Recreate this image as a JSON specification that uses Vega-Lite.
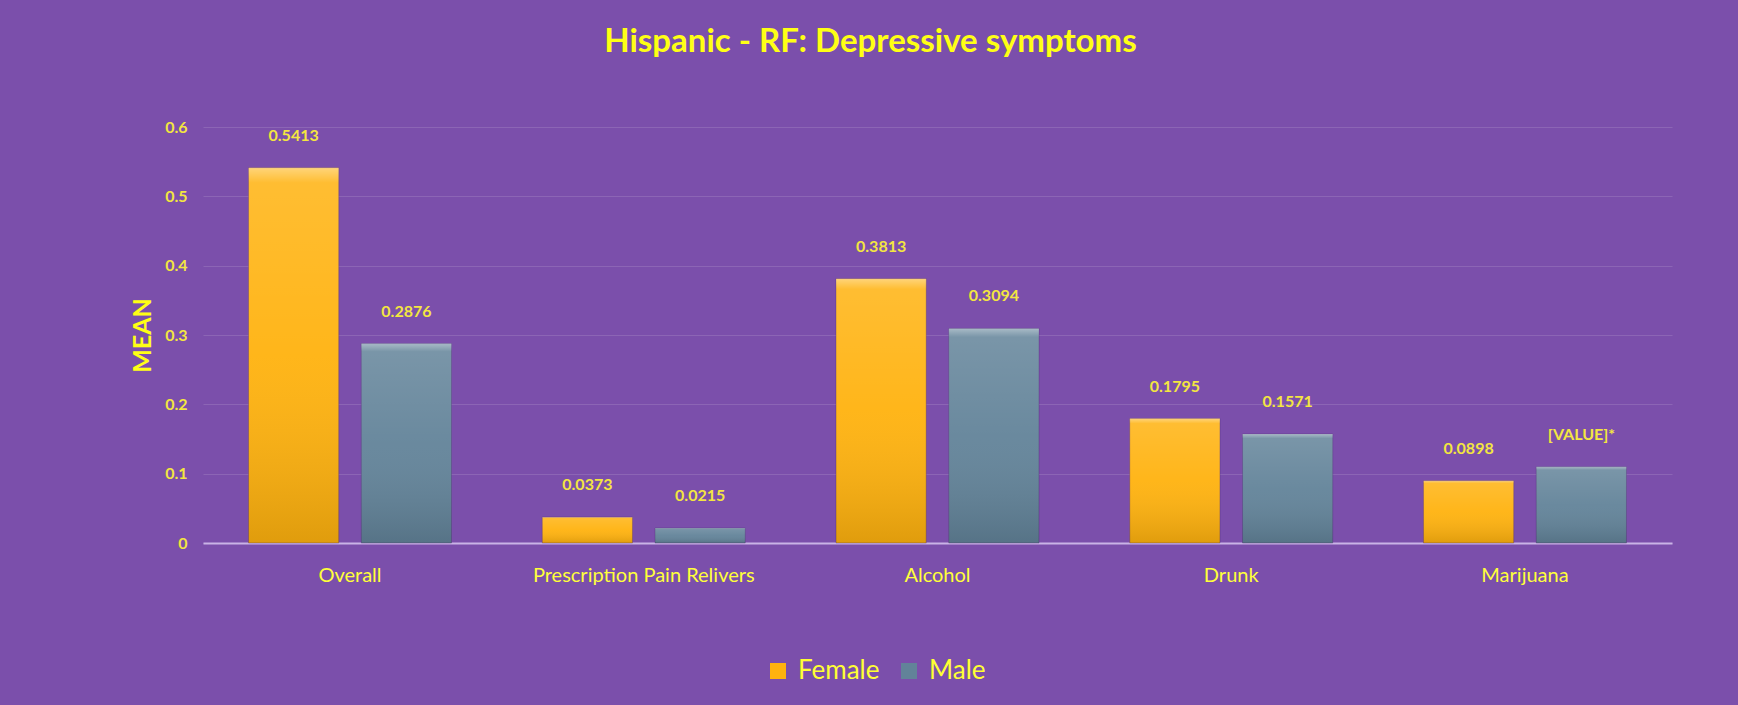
{
  "$schema": "https://vega.github.io/schema/vega-lite/v6.json",
  "width": 1469,
  "height": 416,
  "autosize": {"type": "none"},
  "padding": {"left": 203, "top": 127, "right": 66, "bottom": 162},
  "background": "#7b4fab",
  "title": {
    "text": "Hispanic - RF: Depressive symptoms",
    "font": "Lato",
    "fontSize": 33,
    "fontWeight": "bold",
    "color": "#ffff14",
    "anchor": "middle",
    "dx": -67,
    "offset": 60
  },
  "config": {
    "view": {"stroke": null},
    "font": "Lato"
  },
  "data": {
    "values": [
      {"category": "Overall", "sex": "Female", "value": 0.5413, "label": "0.5413"},
      {"category": "Overall", "sex": "Male", "value": 0.2876, "label": "0.2876"},
      {"category": "Prescription Pain Relivers", "sex": "Female", "value": 0.0373, "label": "0.0373"},
      {"category": "Prescription Pain Relivers", "sex": "Male", "value": 0.0215, "label": "0.0215"},
      {"category": "Alcohol", "sex": "Female", "value": 0.3813, "label": "0.3813"},
      {"category": "Alcohol", "sex": "Male", "value": 0.3094, "label": "0.3094"},
      {"category": "Drunk", "sex": "Female", "value": 0.1795, "label": "0.1795"},
      {"category": "Drunk", "sex": "Male", "value": 0.1571, "label": "0.1571"},
      {"category": "Marijuana", "sex": "Female", "value": 0.0898, "label": "0.0898"},
      {"category": "Marijuana", "sex": "Male", "value": 0.1098, "label": "[VALUE]*"}
    ]
  },
  "encoding": {
    "x": {
      "field": "category",
      "type": "nominal",
      "sort": ["Overall", "Prescription Pain Relivers", "Alcohol", "Drunk", "Marijuana"],
      "scale": {"paddingInner": 0.309, "paddingOuter": 0.155},
      "axis": {
        "title": null,
        "labelAngle": 0,
        "labelFont": "Lato",
        "labelFontSize": 20,
        "labelColor": "#ffff3a",
        "labelPadding": 22,
        "labelLimit": 0,
        "ticks": false,
        "domain": true,
        "domainColor": "#c9b3e6",
        "domainWidth": 2
      }
    },
    "xOffset": {
      "field": "sex",
      "type": "nominal",
      "sort": ["Female", "Male"],
      "scale": {"paddingInner": 0.2, "paddingOuter": 0}
    },
    "y": {
      "field": "value",
      "type": "quantitative",
      "scale": {"domain": [0, 0.6], "nice": false},
      "axis": {
        "title": "MEAN",
        "titleFont": "Lato",
        "titleFontSize": 25,
        "titleFontWeight": "bold",
        "titleColor": "#ffff14",
        "titlePadding": 9,
        "values": [0, 0.1, 0.2, 0.3, 0.4, 0.5, 0.6],
        "format": "~g",
        "labelFont": "Lato",
        "labelFontSize": 16,
        "labelFontWeight": "bold",
        "labelColor": "#f3e640",
        "labelPadding": 16,
        "ticks": false,
        "domain": false,
        "grid": true,
        "gridColor": "#ffffff",
        "gridOpacity": 0.13,
        "gridWidth": 1
      }
    }
  },
  "layer": [
    {
      "mark": {"type": "bar", "stroke": "#4a2a6e", "strokeOpacity": 0.35, "strokeWidth": 1},
      "encoding": {
        "color": {
          "field": "sex",
          "type": "nominal",
          "sort": ["Female", "Male"],
          "scale": {"domain": ["Female", "Male"], "range": ["#ffb20e", "#628399"]},
          "legend": {
            "orient": "none",
            "legendX": 562,
            "legendY": 531,
            "direction": "horizontal",
            "title": null,
            "symbolType": "square",
            "symbolSize": 256,
            "symbolStrokeWidth": 0,
            "symbolOpacity": 1,
            "labelFont": "Lato",
            "labelFontSize": 26,
            "labelColor": "#ffff33",
            "labelOffset": 7,
            "columnPadding": 16
          }
        }
      }
    },
    {
      "mark": {
        "type": "bar",
        "fill": {
          "gradient": "linear",
          "x1": 0, "y1": 0, "x2": 0, "y2": 1,
          "stops": [
            {"offset": 0, "color": "rgba(255,255,255,0.45)"},
            {"offset": 0.04, "color": "rgba(255,255,255,0.15)"},
            {"offset": 0.5, "color": "rgba(255,255,255,0.05)"},
            {"offset": 1, "color": "rgba(0,0,0,0.12)"}
          ]
        }
      }
    },
    {
      "mark": {
        "type": "text",
        "font": "Lato",
        "fontSize": 16,
        "fontWeight": "bold",
        "color": "#f3e640",
        "baseline": "middle",
        "dy": -32
      },
      "encoding": {
        "text": {"field": "label", "type": "nominal"}
      }
    }
  ]
}
